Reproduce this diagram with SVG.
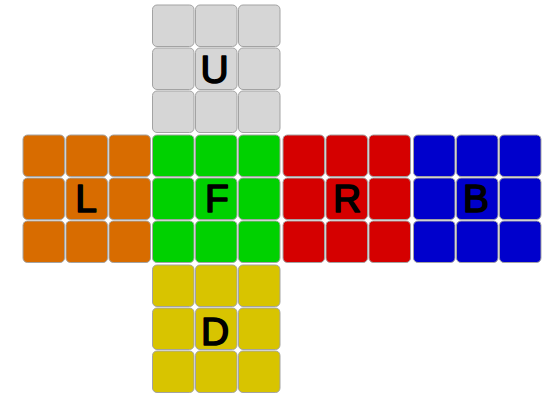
<svg xmlns="http://www.w3.org/2000/svg" width="552" height="396" viewBox="0 0 552 396">
<style>
rect.t{stroke:#a3a3a3;stroke-width:1;}
.u{fill:#d6d6d6}.l{fill:#d86c00}.f{fill:#00d100}.r{fill:#d50000}.b{fill:#0000cc}.d{fill:#d8c400}
text{font-family:"Liberation Sans","DejaVu Sans",sans-serif;font-size:39px;fill:#000;stroke:#000;stroke-width:1.6;stroke-linejoin:round;text-anchor:middle}
</style>
<defs>
<rect id="tile" class="t" width="41.5" height="41.5" rx="4.5"/>
<g id="face">
<use href="#tile" x="0" y="0"/><use href="#tile" x="43" y="0"/><use href="#tile" x="86" y="0"/>
<use href="#tile" x="0" y="43"/><use href="#tile" x="43" y="43"/><use href="#tile" x="86" y="43"/>
<use href="#tile" x="0" y="86"/><use href="#tile" x="43" y="86"/><use href="#tile" x="86" y="86"/>
</g>
</defs>
<rect width="552" height="396" fill="#fff"/>
<g id="U"><use href="#face" class="u" x="152.5" y="5"/><text x="214.5" y="83">U</text></g>
<g id="L"><use href="#face" class="l" x="23" y="135"/><text x="86" y="211.5">L</text></g>
<g id="F"><use href="#face" class="f" x="152.5" y="135"/><text x="217" y="211.5">F</text></g>
<g id="R"><use href="#face" class="r" x="283" y="135"/><text x="347" y="211.5">R</text></g>
<g id="B"><use href="#face" class="b" x="413.5" y="135"/><text x="476" y="211.5">B</text></g>
<g id="D"><use href="#face" class="d" x="152.5" y="265"/><text x="215" y="345">D</text></g>
<g id="connectors"/>
</svg>
